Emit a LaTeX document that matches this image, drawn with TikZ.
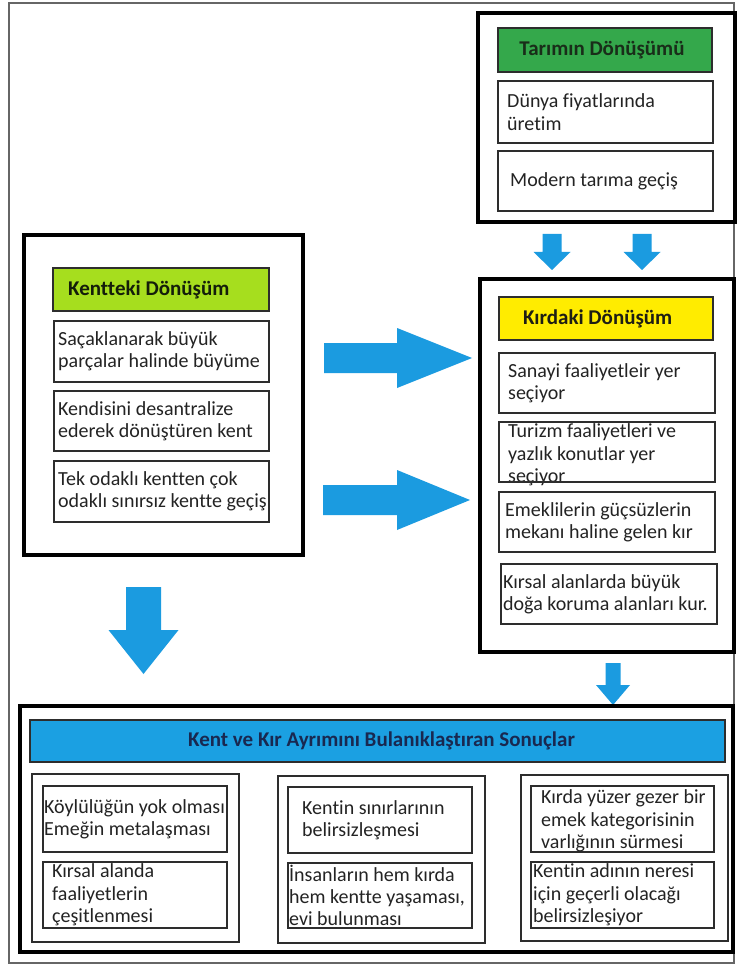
\documentclass[tikz,border=0pt]{standalone}
\usepackage{fontspec}
\setmainfont{Carlito}[Ligatures={NoCommon}]
\usetikzlibrary{fit}
\definecolor{arrblue}{RGB}{27,155,224}
\definecolor{hblue}{RGB}{27,160,226}
\definecolor{tgreen}{RGB}{52,168,75}
\definecolor{limeg}{RGB}{166,222,30}
\definecolor{yel}{RGB}{255,236,0}
\definecolor{linec}{RGB}{45,45,45}
\definecolor{textc}{RGB}{35,35,35}
\definecolor{navy}{RGB}{25,40,80}
\tikzset{
  frame/.style={draw=gray!80!black, line width=1.2pt, inner sep=0pt, outer sep=0pt},
  bigbox/.style={draw=black, line width=4pt, inner sep=0pt, outer sep=0pt},
  ibox/.style={draw=linec, line width=1.3pt, fill=white, inner sep=0pt, outer sep=0pt},
  colbox/.style={draw=linec, line width=1.3pt, inner sep=0pt, outer sep=0pt},
  hbox/.style={draw=linec, line width=1.3pt, inner sep=0pt, outer sep=0pt},
  txt/.style={font=\fontsize{20}{22.3}\selectfont, align=left, inner sep=0pt, text=textc},
  htxt/.style={font=\fontsize{21}{23}\selectfont\bfseries, inner sep=0pt},
  blockarrow/.style={fill=arrblue, draw=none}
}
\begin{document}
\begin{tikzpicture}[x=1pt,y=-1pt]
\useasboundingbox (0,0) rectangle (736,965);
\fill[white] (0,0) rectangle (736,965);
% outer frame
\node[frame, fit={(9,3) (734,963)}] (outer) {};

% ---- Tarımın Dönüşümü
\node[bigbox, fit={(478,13) (735,222)}] (tar) {};
\node[hbox, fill=tgreen, fit={(498,28) (712,72)}] (tarh) {};
\node[htxt, text={rgb,255:red,25;green,45;blue,25}] (tarht) at ([xshift=-3pt]tarh.center) {Tarımın Dönüşümü};
\node[ibox, fit={(498,81) (713,143)}] (t1) {};
\node[txt, anchor=west] (t1t) at ([xshift=9pt]t1.west) {Dünya fiyatlarında\\üretim};
\node[ibox, fit={(498,151) (713,211)}] (t2) {};
\node[txt, anchor=west] (t2t) at ([xshift=12pt]t2.west) {Modern tarıma geçiş};

% top down arrows
\fill[blockarrow] (552-9.5,234) -- (552+9.5,234) -- (552+9.5,252) -- (552+18.5,252) -- (552,270) -- (552-18.5,252) -- (552-9.5,252) -- cycle;
\fill[blockarrow] (642-9.5,234) -- (642+9.5,234) -- (642+9.5,252) -- (642+18.5,252) -- (642,270) -- (642-18.5,252) -- (642-9.5,252) -- cycle;

% ---- Kırdaki Dönüşüm
\node[bigbox, fit={(480,279) (734,652)}] (kir) {};
\node[hbox, fill=yel, fit={(499,297) (713,340)}] (kirh) {};
\node[htxt, anchor=west, text={rgb,255:red,30;green,30;blue,20}] (kirht) at ([xshift=24pt]kirh.west) {Kırdaki Dönüşüm};
\node[ibox, fit={(499,353) (715,413)}] (k1) {};
\node[txt, anchor=west] (k1t) at ([xshift=9pt]k1.west) {Sanayi faaliyetleir yer\\seçiyor};
\node[ibox, fit={(499,422) (715,482)}] (k2) {};
\node[txt, anchor=west] (k2t) at ([xshift=9pt,yshift=-3pt]k2.west) {Turizm faaliyetleri ve\\yazlık konutlar yer\\seçiyor};
\draw[linec, line width=1.3pt] (k2.south west) -- (k2.south east);
\node[ibox, fit={(499,492) (715,552)}] (k3) {};
\node[txt, anchor=west] (k3t) at ([xshift=6pt]k3.west) {Emeklilerin güçsüzlerin\\mekanı haline gelen kır};
\node[ibox, fit={(501,564) (717,624)}] (k4) {};
\node[txt, anchor=west] (k4t) at ([xshift=2pt]k4.west) {Kırsal alanlarda büyük\\doğa koruma alanları kur.};

% ---- Kentteki Dönüşüm
\node[bigbox, fit={(24,235) (303,555)}] (ken) {};
\node[hbox, fill=limeg, fit={(53,268) (269,311)}] (kenh) {};
\node[htxt, anchor=west, text={rgb,255:red,20;green,30;blue,10}] (kenht) at ([xshift=15pt]kenh.west) {Kentteki Dönüşüm};
\node[ibox, fit={(54,321) (269,382)}] (c1) {};
\node[txt, anchor=west] (c1t) at ([xshift=4pt]c1.west) {Saçaklanarak büyük\\parçalar halinde büyüme};
\node[ibox, fit={(54,391) (269,451)}] (c2) {};
\node[txt, anchor=west] (c2t) at ([xshift=4pt]c2.west) {Kendisini desantralize\\ederek dönüştüren kent};
\node[ibox, fit={(54,461) (269,522)}] (c3) {};
\node[txt, anchor=west] (c3t) at ([xshift=4pt]c3.west) {Tek odaklı kentten çok\\odaklı sınırsız kentte geçiş};

% right arrows
\fill[blockarrow] (324,358-15) -- (397,358-15) -- (397,358-30) -- (472,358) -- (397,358+30) -- (397,358+15) -- (324,358+15) -- cycle;
\fill[blockarrow] (323,500-15) -- (397,500-15) -- (397,500-30) -- (470,500) -- (397,500+30) -- (397,500+15) -- (323,500+15) -- cycle;

% big down arrow
\fill[blockarrow] (143.5-17.5,587) -- (143.5+17.5,587) -- (143.5+17.5,630) -- (143.5+35,630) -- (143.5,674) -- (143.5-35,630) -- (143.5-17.5,630) -- cycle;
% small down arrow
\fill[blockarrow] (613-7.5,663) -- (613+7.5,663) -- (613+7.5,685) -- (613+17,685) -- (613,705) -- (613-17,685) -- (613-7.5,685) -- cycle;

% ---- Sonuçlar
\node[bigbox, fit={(20,706) (733,952)}] (son) {};
\node[hbox, fill=hblue, fit={(30,720) (725,762)}] (sonh) {};
\node[htxt, text=navy] (sonht) at ([xshift=4pt]sonh.center) {Kent ve Kır Ayrımını Bulanıklaştıran Sonuçlar};

\node[colbox, fit={(32,774) (239,942)}] (col1) {};
\node[ibox, fit={(43,786) (227,852)}] (s1) {};
\node[txt, anchor=west] (s1t) at ([xshift=1pt]s1.west) {Köylülüğün yok olması\\Emeğin metalaşması};
\node[ibox, fit={(43,862) (227,928)}] (s2) {};
\node[txt, anchor=west] (s2t) at ([xshift=9pt]s2.west) {Kırsal alanda\\faaliyetlerin\\çeşitlenmesi};

\node[colbox, fit={(278,776) (485,943)}] (col2) {};
\node[ibox, fit={(288,787) (472,853)}] (s3) {};
\node[txt, anchor=west] (s3t) at ([xshift=14pt]s3.west) {Kentin sınırlarının\\belirsizleşmesi};
\node[ibox, fit={(288,863) (472,928)}] (s4) {};
\node[txt, anchor=west] (s4t) at ([xshift=1pt]s4.west) {İnsanların hem kırda\\hem kentte yaşaması,\\evi bulunması};

\node[colbox, fit={(521,775) (728,941)}] (col3) {};
\node[ibox, fit={(531,786) (714,852)}] (s5) {};
\node[txt, anchor=west] (s5t) at ([xshift=10pt,yshift=-2pt]s5.west) {Kırda yüzer gezer bir\\emek kategorisinin\\varlığının sürmesi};
\node[ibox, fit={(531,862) (714,928)}] (s6) {};
\node[txt, anchor=west] (s6t) at ([xshift=2pt]s6.west) {Kentin adının neresi\\için geçerli olacağı\\belirsizleşiyor};
\end{tikzpicture}
\end{document}
